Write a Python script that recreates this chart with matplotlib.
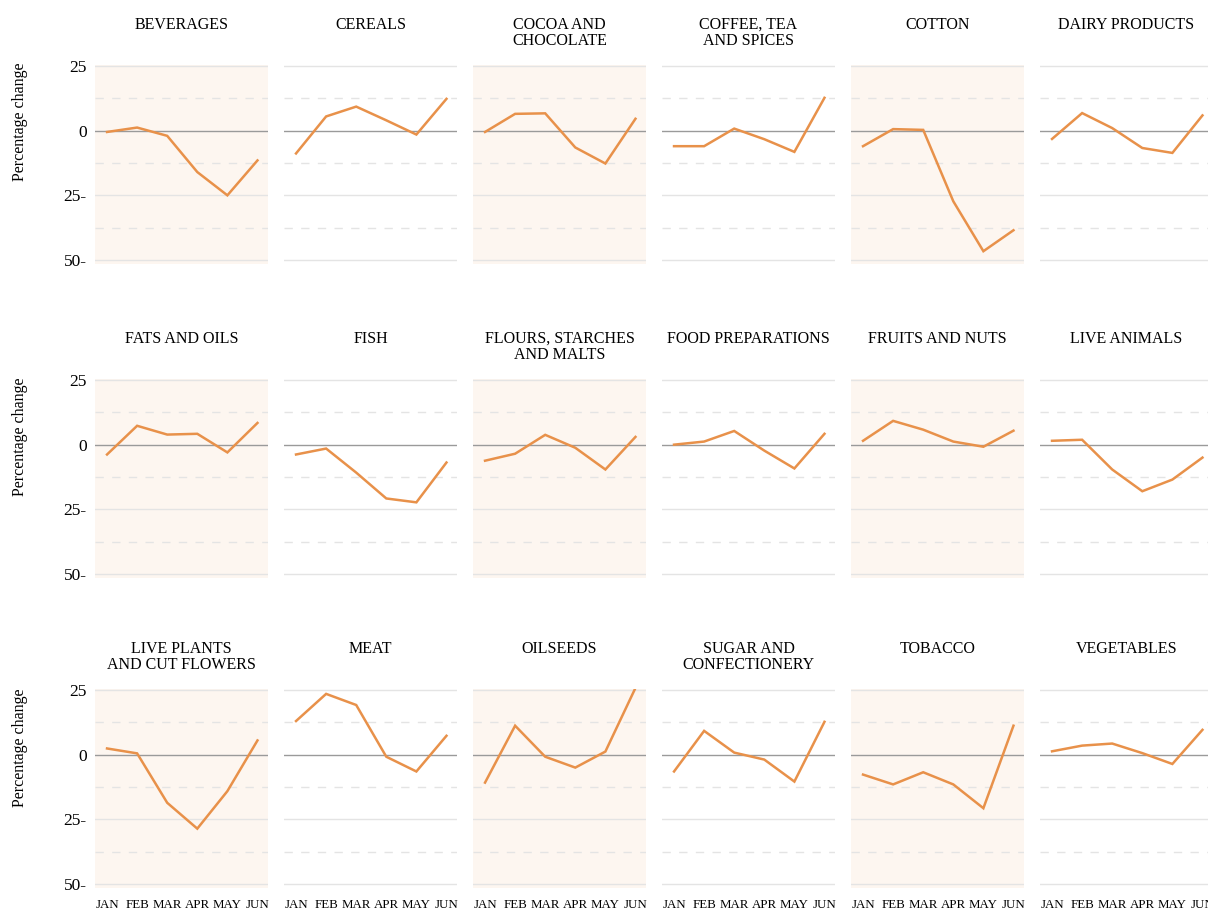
import numpy as np
import matplotlib.pyplot as plt

# ---------- data (percentage change, JAN..JUN) ----------
months = ["JAN", "FEB", "MAR", "APR", "MAY", "JUN"]
titles = [
    "BEVERAGES", "CEREALS", "COCOA AND\nCHOCOLATE", "COFFEE, TEA\nAND SPICES", "COTTON", "DAIRY PRODUCTS",
    "FATS AND OILS", "FISH", "FLOURS, STARCHES\nAND MALTS", "FOOD PREPARATIONS", "FRUITS AND NUTS", "LIVE ANIMALS",
    "LIVE PLANTS\nAND CUT FLOWERS", "MEAT", "OILSEEDS", "SUGAR AND\nCONFECTIONERY", "TOBACCO", "VEGETABLES",
]
beverages = [-0.5, 1.2, -2.0, -16.0, -25.0, -11.5]
cereals = [-8.8, 5.5, 9.3, 4.0, -1.5, 12.3]
cocoa = [-0.5, 6.5, 6.7, -6.5, -12.7, 4.6]
coffee = [-6.0, -6.0, 0.8, -3.3, -8.2, 12.7]
cotton = [-6.0, 0.6, 0.3, -27.3, -46.6, -38.5]
dairy = [-3.2, 6.8, 1.0, -6.7, -8.6, 5.9]
fats = [-3.8, 7.3, 3.9, 4.2, -3.0, 8.4]
fish = [-3.8, -1.5, -10.8, -20.8, -22.3, -6.9]
flours = [-6.2, -3.5, 3.8, -1.2, -9.6, 3.0]
food_prep = [0.0, 1.2, 5.3, -2.3, -9.2, 4.2]
fruits = [1.5, 9.2, 5.8, 1.2, -0.8, 5.4]
live_animals = [1.5, 1.9, -9.6, -18.0, -13.5, -5.0]
live_plants = [2.4, 0.5, -18.6, -28.6, -14.1, 5.5]
meat = [13.0, 23.5, 19.2, -0.8, -6.5, 7.3]
oilseeds = [-10.8, 11.2, -0.8, -5.0, 1.2, 25.8]
sugar = [-6.5, 9.2, 0.8, -1.9, -10.4, 12.7]
tobacco = [-7.7, -11.5, -6.8, -11.5, -20.7, 11.2]
vegetables = [1.3, 3.5, 4.3, 0.6, -3.6, 9.6]

series = [beverages, cereals, cocoa, coffee, cotton, dairy,
          fats, fish, flours, food_prep, fruits, live_animals,
          live_plants, meat, oilseeds, sugar, tobacco, vegetables]

yticks = [25, 0, -25, -50]
ytick_labels = ["25", "0", "25-", "50-"]

# ---------- styling ----------
W, H = 1208, 913
LINE = "#e8914a"
SHADE = "#fdf6f0"
GRID = "#e4e4e4"
ZERO = "#9a9a9a"
plt.rcParams["font.family"] = ["Liberation Serif", "DejaVu Serif"]

fig = plt.figure(figsize=(W / 100, H / 100), dpi=100)

col_left = [95 + i * 189 for i in range(6)]
panel_w = 173
row_top25 = [66, 380, 690]     # pixel y of +25
ylabel_y = [122, 437, 748]     # pixel y of the centre of "Percentage change"
px_per_unit = 194 / 75.0
y_hi, y_lo = 25.5, -51.5
x = np.arange(len(months))

for idx, vals in enumerate(series):
    r, c = divmod(idx, 6)
    top_px = row_top25[r] - (y_hi - 25) * px_per_unit
    bot_px = row_top25[r] + (25 - y_lo) * px_per_unit
    ax = fig.add_axes([col_left[c] / W, 1 - bot_px / H, panel_w / W, (bot_px - top_px) / H])
    ax.set_xlim(-0.4, 5.35)
    ax.set_ylim(y_lo, y_hi)
    ax.set_facecolor(SHADE if c % 2 == 0 else "white")
    for s in ax.spines.values():
        s.set_visible(False)

    for yv in [25, -25, -50]:
        ax.axhline(yv, color=GRID, lw=1, zorder=1)
    for yv in [12.5, -12.5, -37.5]:
        ax.axhline(yv, color=GRID, lw=1, ls=(0, (6, 6)), zorder=1)
    ax.axhline(0, color=ZERO, lw=1, zorder=2)

    ax.plot(x, vals, color=LINE, lw=1.8, zorder=3, solid_joinstyle="miter")

    # title, top-aligned a fixed distance above the +25 line
    ax.text(0.5, 1 + (top_px - (row_top25[r] - 49)) / (bot_px - top_px), titles[idx],
            transform=ax.transAxes, ha="center", va="top", fontsize=11.5, linespacing=1.0)

    ax.tick_params(length=0, pad=6)
    if c == 0:
        ax.set_yticks(yticks)
        ax.set_yticklabels(ytick_labels, fontsize=12.5)
        fig.text(20 / W, 1 - ylabel_y[r] / H, "Percentage change", rotation=90,
                 ha="center", va="center", fontsize=11.5)
    else:
        ax.set_yticks([])
    if r == 2:
        ax.set_xticks(x)
        ax.set_xticklabels(months, fontsize=9.3)
        ax.tick_params(axis="x", pad=8)
    else:
        ax.set_xticks([])

fig.savefig("out.png", dpi=100, facecolor="white")
